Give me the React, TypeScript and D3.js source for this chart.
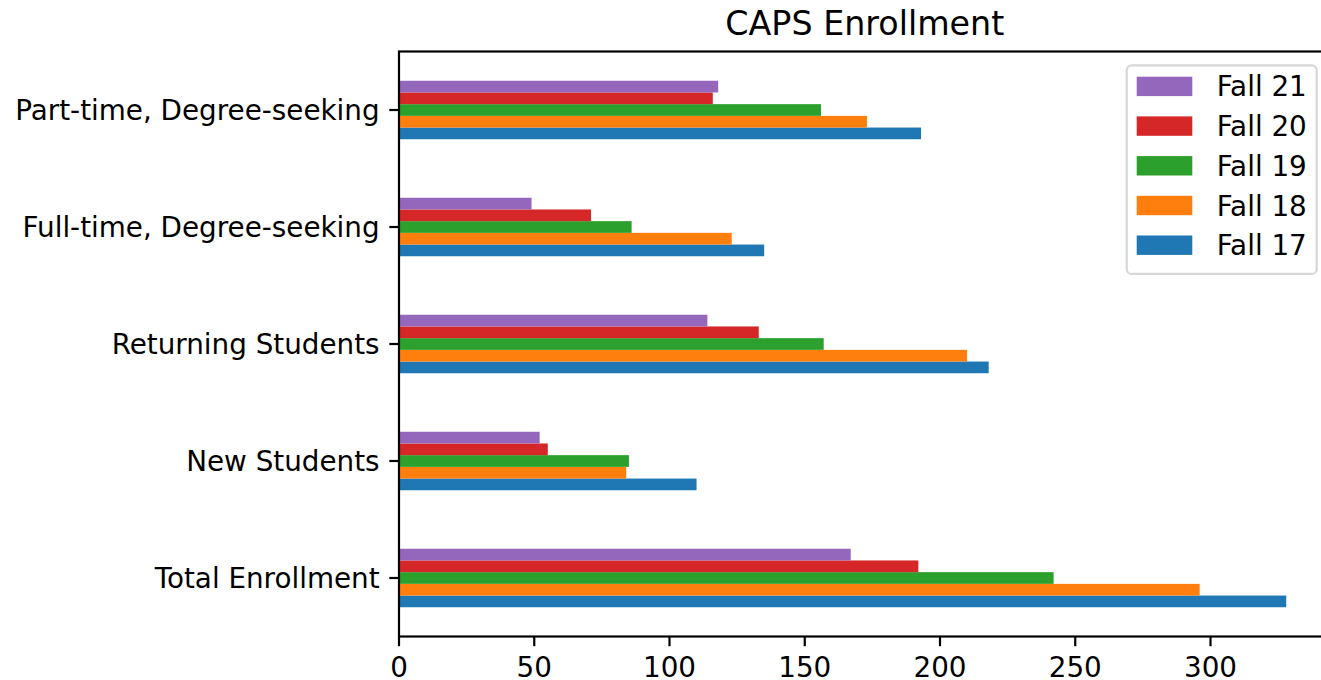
import React from "react";
import * as d3 from "d3";

const categories = [
  "Total Enrollment",
  "New Students",
  "Returning Students",
  "Full-time, Degree-seeking",
  "Part-time, Degree-seeking",
];
const seriesNames = ["Fall 17", "Fall 18", "Fall 19", "Fall 20", "Fall 21"];
const fall17 = [328, 110, 218, 135, 193];
const fall18 = [296, 84, 210, 123, 173];
const fall19 = [242, 85, 157, 86, 156];
const fall20 = [192, 55, 133, 71, 116];
const fall21 = [167, 52, 114, 49, 118];
const seriesValues = [fall17, fall18, fall19, fall20, fall21];
const colors = ["#1f77b4", "#ff7f0e", "#2ca02c", "#d62728", "#9467bd"];
const xTicks = [0, 50, 100, 150, 200, 250, 300];
const title = "CAPS Enrollment";

const W = 1321;
const H = 680;
const left = 399;
const top = 51.5;
const bottom = 636.5;
const FONT = "DejaVu Sans, sans-serif";
const fs = 27.8;

export default function App() {
  const maxV = d3.max(seriesValues.flat()) as number;
  const x = d3.scaleLinear().domain([0, maxV * 1.05]).range([left, left + 2.705 * maxV * 1.05]);
  const y = d3.scaleLinear().domain([-0.5, categories.length - 0.5]).range([bottom, top]);
  const n = seriesValues.length;
  const groupW = 0.5;
  const barW = groupW / n;
  const right = x.range()[1];
  const bh = Math.abs(y(0) - y(barW));

  const legendRight = right - 13.9;
  const legendTop = top + 13.9;
  const legendW = 190;
  const rowH = 39.7;
  const legendH = rowH * n + 8;

  return (
    <svg width={W} height={H} style={{ position: "absolute", left: 0, top: 0, background: "#fff" }}>
      <rect x={0} y={0} width={W} height={H} fill="#fff" />
      {seriesValues.map((vals, s) =>
        vals.map((v, i) => {
          const c = i - groupW / 2 + s * barW + barW / 2;
          return (
            <rect
              key={`${s}-${i}`}
              x={x(0)}
              y={y(c) - bh / 2}
              width={x(v) - x(0)}
              height={bh}
              fill={colors[s]}
            />
          );
        })
      )}
      {/* spines */}
      <rect x={left} y={top} width={right - left} height={bottom - top} fill="none" stroke="#000" strokeWidth={2.2} />
      {/* y ticks */}
      {categories.map((c, i) => (
        <g key={c}>
          <line x1={left - 9.7} x2={left} y1={y(i)} y2={y(i)} stroke="#000" strokeWidth={2.2} />
          <text x={left - 19.4} y={y(i)} dy="0.35em" textAnchor="end" fontFamily={FONT} fontSize={fs} fill="#000">
            {c}
          </text>
        </g>
      ))}
      {/* x ticks */}
      {xTicks.map((t) => (
        <g key={t}>
          <line x1={x(t)} x2={x(t)} y1={bottom} y2={bottom + 9.7} stroke="#000" strokeWidth={2.2} />
          <text x={x(t)} y={bottom + 19.4} dy="0.76em" textAnchor="middle" fontFamily={FONT} fontSize={fs} fill="#000">
            {t}
          </text>
        </g>
      ))}
      <text x={(left + right) / 2} y={top - 16.7} textAnchor="middle" fontFamily={FONT} fontSize={33.3} fill="#000">
        {title}
      </text>
      {/* legend */}
      <rect
        x={legendRight - legendW}
        y={legendTop}
        width={legendW}
        height={legendH + 2}
        rx={5}
        fill="#fff"
        fillOpacity={0.8}
        stroke="#d6d6d6"
        strokeWidth={2.2}
      />
      {seriesNames
        .map((name, s) => ({ name, s }))
        .reverse()
        .map(({ name, s }, k) => {
          const cy = legendTop + 21 + k * rowH;
          return (
            <g key={name}>
              <rect x={legendRight - legendW + 10} y={cy - 9.7} width={55.6} height={19.4} fill={colors[s]} />
              <text x={legendRight - legendW + 90} y={cy} dy="0.36em" fontFamily={FONT} fontSize={fs} fill="#000">
                {name}
              </text>
            </g>
          );
        })}
    </svg>
  );
}
